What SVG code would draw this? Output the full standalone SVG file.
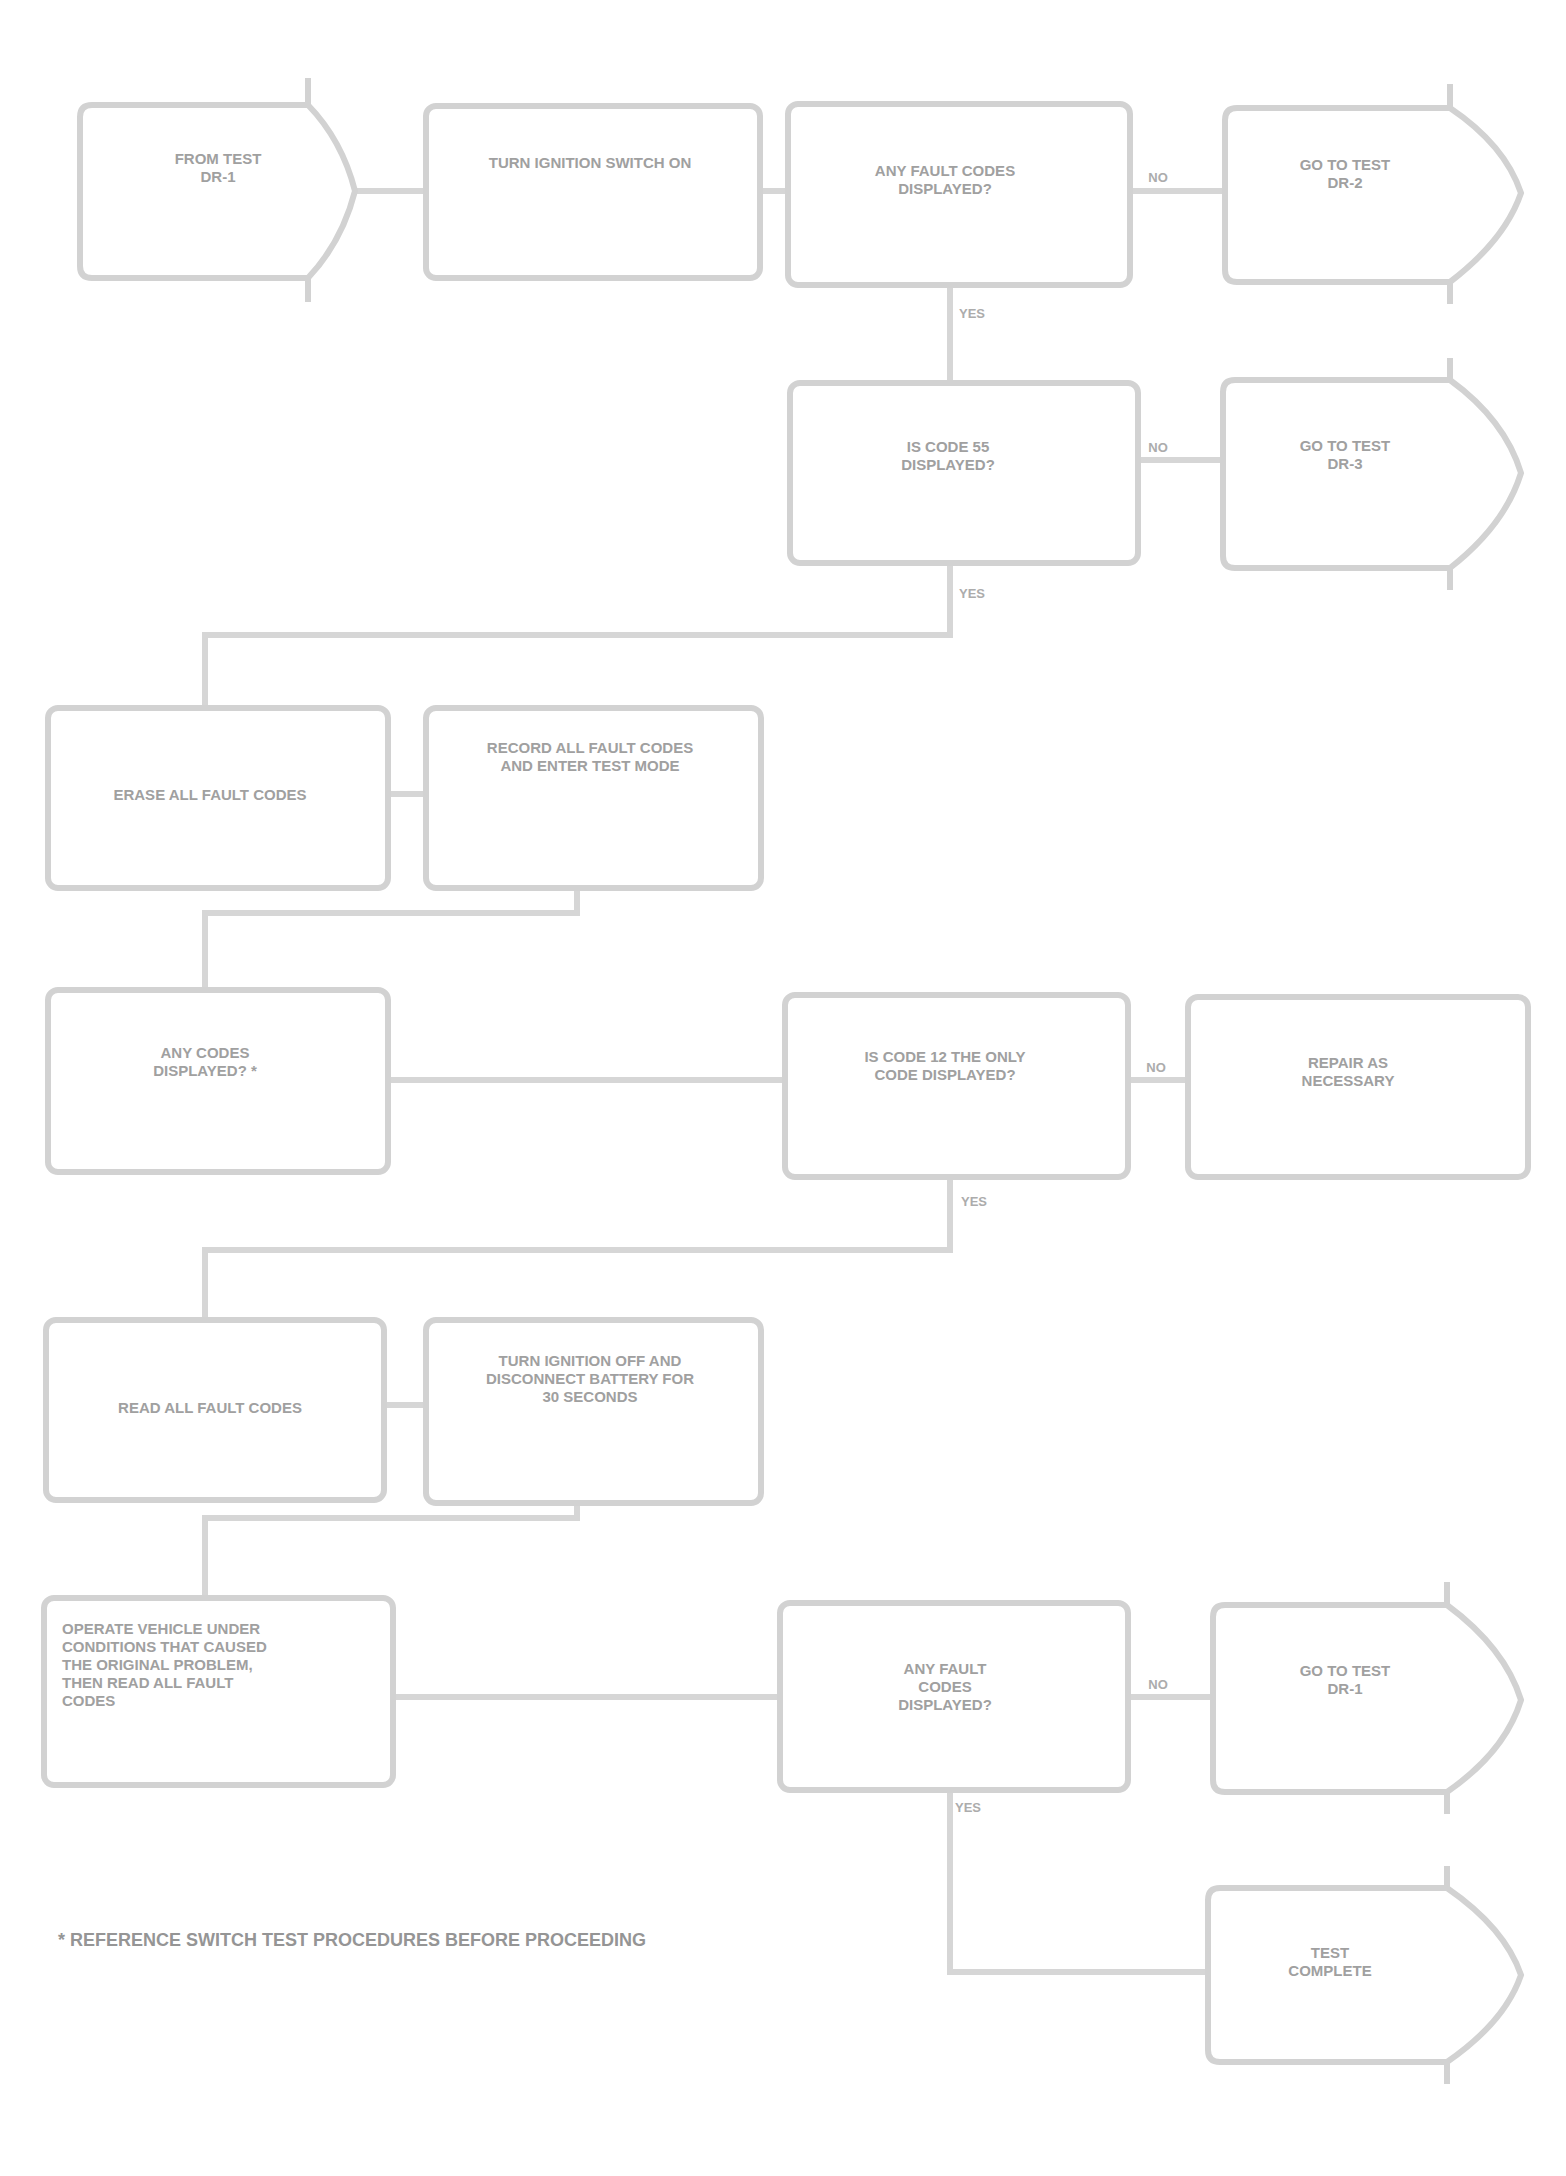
<svg xmlns="http://www.w3.org/2000/svg" width="1566" height="2176" viewBox="0 0 1566 2176">
<style>
.box{fill:#fff;stroke:#d2d2d2;stroke-width:6}
.tick{fill:none;stroke:#d2d2d2;stroke-width:6}
.con{fill:none;stroke:#d6d6d6;stroke-width:6}
.t{font-family:"Liberation Sans",Arial,sans-serif;font-size:15px;font-weight:bold;fill:#a0a0a0;text-anchor:middle}
.tl{font-family:"Liberation Sans",Arial,sans-serif;font-size:15px;font-weight:bold;fill:#a0a0a0;text-anchor:start}
.lab{font-family:"Liberation Sans",Arial,sans-serif;font-size:13px;font-weight:bold;fill:#acacac;text-anchor:middle}
.foot{font-family:"Liberation Sans",Arial,sans-serif;font-size:18px;font-weight:bold;fill:#959595}
</style>
<rect width="1566" height="2176" fill="#fff"/>
<g id="connectors">
<path class="con" d="M355 191H426"/>
<path class="con" d="M760 191H788"/>
<path class="con" d="M1130 191H1225"/>
<path class="con" d="M950 285V383"/>
<path class="con" d="M1138 460H1223"/>
<path class="con" d="M950 563V635H205V708"/>
<path class="con" d="M388 794H426"/>
<path class="con" d="M577 888V913H205V990"/>
<path class="con" d="M388 1080H785"/>
<path class="con" d="M1128 1080H1188"/>
<path class="con" d="M950 1177V1250H205V1320"/>
<path class="con" d="M384 1405H426"/>
<path class="con" d="M577 1503V1518H205V1598"/>
<path class="con" d="M393 1697H780"/>
<path class="con" d="M1128 1697H1213"/>
<path class="con" d="M950 1790V1972H1208"/>
<text class="lab" x="1158" y="182">NO</text>
<text class="lab" x="972" y="318">YES</text>
<text class="lab" x="1158" y="452">NO</text>
<text class="lab" x="972" y="598">YES</text>
<text class="lab" x="1156" y="1072">NO</text>
<text class="lab" x="974" y="1206">YES</text>
<text class="lab" x="1158" y="1689">NO</text>
<text class="lab" x="968" y="1812">YES</text>
</g>
<g id="node-a">
<path class="box" d="M92 105H308Q342 140 355 191Q342 242 308 278H92Q80 278 80 266V117Q80 105 92 105Z"/>
<path class="tick" d="M308 105V78M308 278V302"/>
<text class="t" x="218" y="164">FROM TEST</text>
<text class="t" x="218" y="182">DR-1</text>
</g>
<g id="node-b">
<rect class="box" x="426" y="106" width="334" height="172" rx="10"/>
<text class="t" x="590" y="168">TURN IGNITION SWITCH ON</text>
</g>
<g id="node-c">
<rect class="box" x="788" y="104" width="342" height="181" rx="10"/>
<text class="t" x="945" y="176">ANY FAULT CODES</text>
<text class="t" x="945" y="194">DISPLAYED?</text>
</g>
<g id="node-d">
<path class="box" d="M1237 108H1450Q1505 145 1521 193Q1505 240 1450 282H1237Q1225 282 1225 270V120Q1225 108 1237 108Z"/>
<path class="tick" d="M1450 108V84M1450 282V304"/>
<text class="t" x="1345" y="170">GO TO TEST</text>
<text class="t" x="1345" y="188">DR-2</text>
</g>
<g id="node-e">
<rect class="box" x="790" y="383" width="348" height="180" rx="10"/>
<text class="t" x="948" y="452">IS CODE 55</text>
<text class="t" x="948" y="470">DISPLAYED?</text>
</g>
<g id="node-f">
<path class="box" d="M1235 380H1450Q1505 420 1521 473Q1505 525 1450 568H1235Q1223 568 1223 556V392Q1223 380 1235 380Z"/>
<path class="tick" d="M1450 380V358M1450 568V590"/>
<text class="t" x="1345" y="451">GO TO TEST</text>
<text class="t" x="1345" y="469">DR-3</text>
</g>
<g id="node-g">
<rect class="box" x="48" y="708" width="340" height="180" rx="10"/>
<text class="t" x="210" y="800">ERASE ALL FAULT CODES</text>
</g>
<g id="node-h">
<rect class="box" x="426" y="708" width="335" height="180" rx="10"/>
<text class="t" x="590" y="753">RECORD ALL FAULT CODES</text>
<text class="t" x="590" y="771">AND ENTER TEST MODE</text>
</g>
<g id="node-i">
<rect class="box" x="48" y="990" width="340" height="182" rx="10"/>
<text class="t" x="205" y="1058">ANY CODES</text>
<text class="t" x="205" y="1076">DISPLAYED? *</text>
</g>
<g id="node-j">
<rect class="box" x="785" y="995" width="343" height="182" rx="10"/>
<text class="t" x="945" y="1062">IS CODE 12 THE ONLY</text>
<text class="t" x="945" y="1080">CODE DISPLAYED?</text>
</g>
<g id="node-k">
<rect class="box" x="1188" y="997" width="340" height="180" rx="10"/>
<text class="t" x="1348" y="1068">REPAIR AS</text>
<text class="t" x="1348" y="1086">NECESSARY</text>
</g>
<g id="node-l">
<rect class="box" x="46" y="1320" width="338" height="180" rx="10"/>
<text class="t" x="210" y="1413">READ ALL FAULT CODES</text>
</g>
<g id="node-m">
<rect class="box" x="426" y="1320" width="335" height="183" rx="10"/>
<text class="t" x="590" y="1366">TURN IGNITION OFF AND</text>
<text class="t" x="590" y="1384">DISCONNECT BATTERY FOR</text>
<text class="t" x="590" y="1402">30 SECONDS</text>
</g>
<g id="node-n">
<rect class="box" x="44" y="1598" width="349" height="187" rx="10"/>
<text class="tl" x="62" y="1634">OPERATE VEHICLE UNDER</text>
<text class="tl" x="62" y="1652">CONDITIONS THAT CAUSED</text>
<text class="tl" x="62" y="1670">THE ORIGINAL PROBLEM,</text>
<text class="tl" x="62" y="1688">THEN READ ALL FAULT</text>
<text class="tl" x="62" y="1706">CODES</text>
</g>
<g id="node-o">
<rect class="box" x="780" y="1603" width="348" height="187" rx="10"/>
<text class="t" x="945" y="1674">ANY FAULT</text>
<text class="t" x="945" y="1692">CODES</text>
<text class="t" x="945" y="1710">DISPLAYED?</text>
</g>
<g id="node-p">
<path class="box" d="M1225 1605H1447Q1505 1648 1521 1700Q1505 1752 1447 1792H1225Q1213 1792 1213 1780V1617Q1213 1605 1225 1605Z"/>
<path class="tick" d="M1447 1605V1582M1447 1792V1814"/>
<text class="t" x="1345" y="1676">GO TO TEST</text>
<text class="t" x="1345" y="1694">DR-1</text>
</g>
<g id="node-q">
<path class="box" d="M1220 1888H1447Q1505 1928 1521 1975Q1505 2022 1447 2062H1220Q1208 2062 1208 2050V1900Q1208 1888 1220 1888Z"/>
<path class="tick" d="M1447 1888V1866M1447 2062V2084"/>
<text class="t" x="1330" y="1958">TEST</text>
<text class="t" x="1330" y="1976">COMPLETE</text>
</g>
<g id="footnote">
<text class="foot" x="58" y="1946">* REFERENCE SWITCH TEST PROCEDURES BEFORE PROCEEDING</text>
</g>
</svg>
